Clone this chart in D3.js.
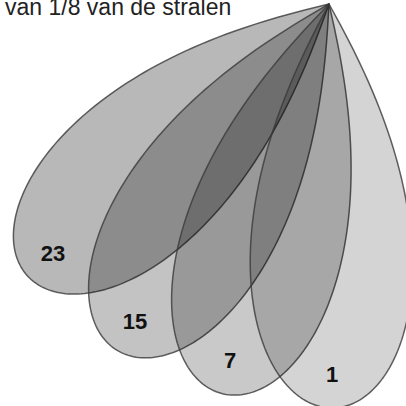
<!DOCTYPE html>
<html>
<head>
<meta charset="utf-8">
<script src="https://cdn.jsdelivr.net/npm/d3@7"></script>
<style>
  body { margin: 0; background: #fff; }
  svg { display: block; }
</style>
</head>
<body>
<div id="chart"></div>
<script>
// lobes of the ray distribution
var lobeLabels = ["1", "7", "15", "23"];
var lobeAngles = [-0.5, 15.5, 31.5, 48];      // degrees from straight down, towards the left
var lobeLengths = [1.0, 1.0, 1.005, 1.005];   // relative length of each lobe
var lobeShades = [0.17, 0.21, 0.235, 0.28];   // darkness of each lobe
var title = "van 1/8 van de stralen";

var width = 406, height = 406;
var apex = [329, 4];
var halfSpread = 28.5;   // half opening angle at the apex, degrees
var bulge = 0.72;

var svg = d3.select("#chart").append("svg")
  .attr("width", width)
  .attr("height", height);

var r = d3.scaleLinear().domain([0, 1]).range([0, 404]);
var rad = d3.scaleLinear().domain([0, 180]).range([0, Math.PI]);

var g = svg.append("g").attr("transform", "translate(" + apex[0] + "," + apex[1] + ")");

var steps = d3.range(-halfSpread, halfSpread + 0.001, halfSpread / 80);

function lobePath(i) {
  var line = d3.lineRadial()
    .angle(function (p) { return Math.PI + rad(lobeAngles[i] + p); })
    .radius(function (p) {
      var c = Math.max(0, Math.cos(p / halfSpread * Math.PI / 2));
      return r(lobeLengths[i] * Math.pow(c, bulge));
    });
  return line(steps) + "Z";
}

var order = [3, 2, 1, 0];
g.selectAll("path.lobe")
  .data(order)
  .enter()
  .append("path")
  .attr("class", "lobe")
  .attr("d", function (i) { return lobePath(i); })
  .attr("fill", "#000")
  .attr("fill-opacity", function (i) { return lobeShades[i]; })
  .attr("stroke", "#3a3a3a")
  .attr("stroke-opacity", 0.8)
  .attr("stroke-width", 1.5)
  .attr("stroke-linejoin", "round");

g.selectAll("text.lbl")
  .data(order)
  .enter()
  .append("text")
  .attr("class", "lbl")
  .attr("transform", function (i) {
    var p = d3.pointRadial(Math.PI + rad(lobeAngles[i]), r(0.915 * lobeLengths[i]));
    return "translate(" + p[0] + "," + p[1] + ")";
  })
  .attr("text-anchor", "middle")
  .attr("dy", "0.36em")
  .style("font-family", "'Liberation Sans', Arial, sans-serif")
  .style("font-weight", "bold")
  .style("font-size", "22px")
  .style("fill", "#111")
  .text(function (i) { return lobeLabels[i]; });

svg.append("text")
  .attr("x", 5)
  .attr("y", 15)
  .style("font-family", "'Liberation Sans', Arial, sans-serif")
  .style("font-size", "23px")
  .style("fill", "#222")
  .text(title);
</script>
</body>
</html>
